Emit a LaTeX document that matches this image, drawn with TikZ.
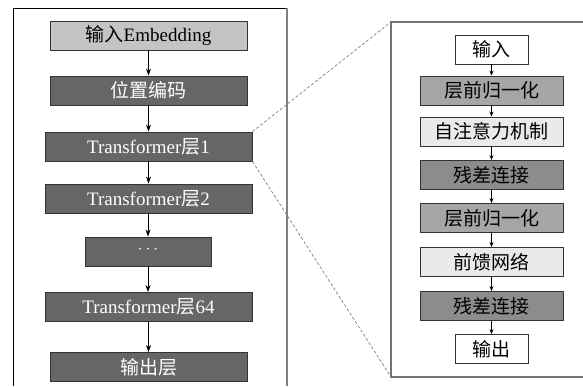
\documentclass[tikz,border=0pt]{standalone}
\usepackage{fontspec}
\setmainfont{Liberation Serif}
\newfontfamily\cjk{Noto Sans CJK SC}
\usetikzlibrary{arrows.meta}
\definecolor{lightbox}{HTML}{C4C4C4}
\definecolor{darkbox}{HTML}{666666}
\definecolor{midbox}{HTML}{A6A6A6}
\definecolor{palebox}{HTML}{EAEAEA}
\definecolor{resbox}{HTML}{8C8C8C}
\definecolor{edge}{HTML}{333333}
\begin{document}
\begin{tikzpicture}[x=1pt,y=-1pt,
  box/.style={draw=edge,line width=0.9pt,inner sep=0pt,minimum height=29pt,font=\fontsize{19}{19}\selectfont},
  lbox/.style={box,minimum width=197pt},
  wbox/.style={box,minimum width=207pt},
  rbox/.style={box,minimum width=143pt},
  sbox/.style={box,minimum width=73pt,fill=white},
  arr/.style={-{Stealth[length=7pt,width=5pt]},line width=0.8pt},
  sarr/.style={-{Stealth[length=5pt,width=4pt]},line width=0.7pt},
  zoomline/.style={gray,dashed,line width=0.7pt,dash pattern=on 3pt off 2pt}]
\useasboundingbox (0,0) rectangle (583,386);
% frames
\coordinate (lf1) at (13,386);
\coordinate (lf2) at (13,8);
\coordinate (lf3) at (287,8);
\coordinate (lf4) at (287,386);
\draw[line width=0.9pt,black] (lf1) -- (lf2) -- (lf3);
\draw[line width=1.1pt,gray] (lf3) -- (lf4);
\coordinate (rf1) at (584,22);
\coordinate (rf2) at (391,22);
\coordinate (rf3) at (391,377);
\coordinate (rf4) at (584,377);
\draw[line width=1.1pt,gray!90!black] (rf1) -- (rf2) -- (rf3) -- (rf4);
% left column
\node[lbox,fill=lightbox] (in) at (148.5,35.5) {{\cjk 输入}Embedding};
\node[lbox,fill=darkbox,text=white] (pos) at (148.5,90.5) {\cjk 位置编码};
\node[wbox,fill=darkbox,text=white] (t1) at (148.5,146.5) {Transformer{\cjk 层}1};
\node[wbox,fill=darkbox,text=white] (t2) at (148.5,198.5) {Transformer{\cjk 层}2};
\node[box,minimum width=126pt,fill=darkbox,text=white] (dots) at (148,251.5) {\raisebox{0.5ex}{$\cdots$}};
\node[wbox,fill=darkbox,text=white] (t64) at (148.5,307) {Transformer{\cjk 层}64};
\node[lbox,fill=darkbox,text=white] (out) at (148.5,367) {\cjk 输出层};
\draw[arr] (in) -- (pos);
\draw[arr] (pos) -- (t1);
\draw[arr] (t1) -- (t2);
\draw[arr] (t2.south -| dots.north) -- (dots);
\draw[arr] (dots.south) -- (dots.south |- t64.north);
\draw[arr] (t64.south -| out.north) -- (out);
% right column
\node[sbox] (rin) at (491.5,49.5) {\cjk 输入};
\node[rbox,fill=midbox] (n1) at (491.5,90.5) {\cjk 层前归一化};
\node[rbox,fill=palebox] (att) at (491.5,131.5) {\cjk 自注意力机制};
\node[rbox,fill=resbox] (r1) at (491.5,175) {\cjk 残差连接};
\node[rbox,fill=midbox] (n2) at (491.5,218) {\cjk 层前归一化};
\node[rbox,fill=palebox] (ffn) at (491.5,262) {\cjk 前馈网络};
\node[rbox,fill=resbox] (r2) at (491.5,306) {\cjk 残差连接};
\node[sbox] (rout) at (491.5,349) {\cjk 输出};
\draw[sarr] (rin) -- (n1);
\draw[sarr] (n1) -- (att);
\draw[sarr] (att) -- (r1);
\draw[sarr] (r1) -- (n2);
\draw[sarr] (n2) -- (ffn);
\draw[sarr] (ffn) -- (r2);
\draw[sarr] (r2) -- (rout);
% zoom lines
\draw[zoomline] (t1.north east) -- (rf2);
\draw[zoomline] (t1.south east) -- (rf3);
\end{tikzpicture}
\end{document}
